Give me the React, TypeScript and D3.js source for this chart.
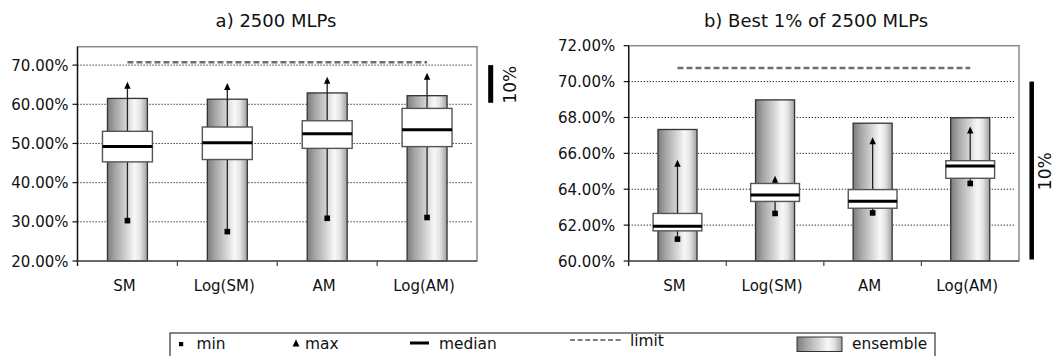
import * as d3 from "d3";
import React, { useEffect, useRef } from "react";

const categories = ["SM", "Log(SM)", "AM", "Log(AM)"];

// a) 2500 MLPs
const allMin = [30.3, 27.5, 30.9, 31.1];
const allMax = [64.6, 64.3, 65.9, 66.9];
const allQ1 = [45.3, 45.9, 48.75, 49.2];
const allQ3 = [53.1, 54.2, 55.8, 58.95];
const allMedian = [49.2, 50.2, 52.5, 53.5];
const allEnsemble = [61.5, 61.3, 62.9, 62.2];
const allTicks = [20, 30, 40, 50, 60, 70];

// b) Best 1% of 2500 MLPs
const bestMin = [61.22, 62.65, 62.68, 64.32];
const bestMax = [65.39, 64.5, 66.65, 67.24];
const bestQ1 = [61.68, 63.32, 62.94, 64.61];
const bestQ3 = [62.65, 64.32, 63.98, 65.59];
const bestMedian = [61.94, 63.68, 63.33, 65.29];
const bestEnsemble = [67.33, 68.98, 67.68, 67.98];
const bestTicks = [60, 62, 64, 66, 68, 70, 72];

const limit = 70.76;

const FONT = "'DejaVu Sans', Verdana, sans-serif";

interface PanelSpec {
  title: string;
  titleX: number;
  left: number;
  right: number;
  top: number;
  bottom: number;
  domain: [number, number];
  ticks: number[];
  labelGap: number;
  min: number[];
  max: number[];
  q1: number[];
  q3: number[];
  median: number[];
  ensemble: number[];
  scaleBarX: number;
  scaleBarW: number;
  scaleTextX: number;
}

const panels: PanelSpec[] = [
  {
    title: "a) 2500 MLPs",
    titleX: 276,
    left: 77.5,
    right: 477,
    top: 46.7,
    bottom: 261,
    domain: [20, 74.7],
    ticks: allTicks,
    labelGap: 9,
    min: allMin,
    max: allMax,
    q1: allQ1,
    q3: allQ3,
    median: allMedian,
    ensemble: allEnsemble,
    scaleBarX: 490.7,
    scaleBarW: 5,
    scaleTextX: 516,
  },
  {
    title: "b) Best 1% of 2500 MLPs",
    titleX: 816,
    left: 628.7,
    right: 1019,
    top: 45.7,
    bottom: 261,
    domain: [60, 72],
    ticks: bestTicks,
    labelGap: 13.5,
    min: bestMin,
    max: bestMax,
    q1: bestQ1,
    q3: bestQ3,
    median: bestMedian,
    ensemble: bestEnsemble,
    scaleBarX: 1031.7,
    scaleBarW: 4.5,
    scaleTextX: 1051,
  },
];

function addGradient(defs: d3.Selection<SVGDefsElement, unknown, null, undefined>, id: string) {
  const g = defs
    .append("linearGradient")
    .attr("id", id)
    .attr("x1", "0%")
    .attr("y1", "0%")
    .attr("x2", "100%")
    .attr("y2", "0%");
  const stops: [string, string][] = [
    ["0%", "#7c7c7c"],
    ["20%", "#a6a6a6"],
    ["50%", "#d8d8d8"],
    ["68%", "#f8f8f8"],
    ["82%", "#e4e4e4"],
    ["100%", "#a0a0a0"],
  ];
  stops.forEach(([o, c]) => g.append("stop").attr("offset", o).attr("stop-color", c));
}

const App: React.FC = () => {
  const svgRef = useRef<SVGSVGElement | null>(null);

  useEffect(() => {
    const svg = d3.select(svgRef.current).html("");
    const defs = svg.append("defs");
    addGradient(defs, "cyl");

    panels.forEach((p) => {
      const x = d3
        .scaleBand<string>()
        .domain(categories)
        .range([p.left, p.right]);
      const y = d3.scaleLinear().domain(p.domain).range([p.bottom, p.top]);
      const bw = x.bandwidth();
      const cx = (i: number) => (x(categories[i]) as number) + bw / 2;

      const g = svg.append("g");

      // title
      g.append("text")
        .attr("x", p.titleX)
        .attr("y", 26.5)
        .attr("text-anchor", "middle")
        .style("font-family", FONT)
        .style("font-size", "18px")
        .attr("fill", "#111")
        .text(p.title);

      // frame top/right
      g.append("rect")
        .attr("x", p.left)
        .attr("y", p.top)
        .attr("width", p.right - p.left)
        .attr("height", p.bottom - p.top)
        .attr("fill", "none")
        .attr("stroke", "#888")
        .attr("stroke-width", 1.5);

      // gridlines
      g.selectAll(".grid")
        .data(p.ticks.filter((t) => t > p.domain[0] && y(t) > p.top + 1))
        .join("line")
        .attr("x1", p.left)
        .attr("x2", p.right - 5)
        .attr("y1", (d) => y(d))
        .attr("y2", (d) => y(d))
        .attr("stroke", "#111")
        .attr("stroke-width", 1)
        .attr("stroke-dasharray", "1.2,1.8");

      // limit
      g.append("line")
        .attr("x1", cx(0))
        .attr("x2", cx(3))
        .attr("y1", y(limit))
        .attr("y2", y(limit))
        .attr("stroke", "#6e6e6e")
        .attr("stroke-width", 2.5)
        .attr("stroke-dasharray", "6,3");

      categories.forEach((c, i) => {
        const xc = cx(i);
        const barW = bw * 0.4;
        const boxW = bw * 0.5;

        // ensemble bar
        g.append("rect")
          .attr("x", xc - barW / 2)
          .attr("y", y(p.ensemble[i]))
          .attr("width", barW)
          .attr("height", p.bottom - y(p.ensemble[i]))
          .attr("fill", "url(#cyl)")
          .attr("stroke", "#333")
          .attr("stroke-width", 1.3);

        // whisker
        g.append("line")
          .attr("x1", xc)
          .attr("x2", xc)
          .attr("y1", y(p.min[i]))
          .attr("y2", y(p.max[i]) - 2)
          .attr("stroke", "#222")
          .attr("stroke-width", 1.3);

        // box
        g.append("rect")
          .attr("x", xc - boxW / 2)
          .attr("y", y(p.q3[i]))
          .attr("width", boxW)
          .attr("height", y(p.q1[i]) - y(p.q3[i]))
          .attr("fill", "#fff")
          .attr("stroke", "#555")
          .attr("stroke-width", 1.4);

        // median
        g.append("line")
          .attr("x1", xc - boxW / 2)
          .attr("x2", xc + boxW / 2)
          .attr("y1", y(p.median[i]))
          .attr("y2", y(p.median[i]))
          .attr("stroke", "#000")
          .attr("stroke-width", 3);

        // min
        g.append("rect")
          .attr("x", xc - 2.8)
          .attr("y", y(p.min[i]) - 2.8)
          .attr("width", 5.6)
          .attr("height", 5.6)
          .attr("fill", "#000");

        // max
        const ym = y(p.max[i]);
        g.append("path")
          .attr("d", `M${xc},${ym - 4.5}L${xc + 3.2},${ym + 2.5}L${xc - 3.2},${ym + 2.5}Z`)
          .attr("fill", "#000");

        // x label
        g.append("text")
          .attr("x", xc - 3)
          .attr("y", 291)
          .attr("text-anchor", "middle")
          .style("font-family", FONT)
          .style("font-size", "15px")
          .attr("fill", "#111")
          .text(c);
      });

      // left axis
      g.append("line")
        .attr("x1", p.left)
        .attr("x2", p.left)
        .attr("y1", p.top)
        .attr("y2", p.bottom + 5)
        .attr("stroke", "#111")
        .attr("stroke-width", 1.3);
      g.selectAll(".ytick")
        .data(p.ticks)
        .join("line")
        .attr("x1", p.left - 5)
        .attr("x2", p.left)
        .attr("y1", (d) => y(d))
        .attr("y2", (d) => y(d))
        .attr("stroke", "#111")
        .attr("stroke-width", 1.2);
      g.selectAll(".ylab")
        .data(p.ticks)
        .join("text")
        .attr("x", p.left - p.labelGap)
        .attr("y", (d) => y(d) + 5.5)
        .attr("text-anchor", "end")
        .style("font-family", FONT)
        .style("font-size", "15px")
        .attr("fill", "#111")
        .text((d) => d3.format(".2f")(d) + "%");

      // bottom axis
      g.append("line")
        .attr("x1", p.left)
        .attr("x2", p.right)
        .attr("y1", p.bottom)
        .attr("y2", p.bottom)
        .attr("stroke", "#555")
        .attr("stroke-width", 1.5);
      g.selectAll(".xtick")
        .data(categories.slice(1))
        .join("line")
        .attr("x1", (d) => x(d) as number)
        .attr("x2", (d) => x(d) as number)
        .attr("y1", p.bottom)
        .attr("y2", p.bottom + 5)
        .attr("stroke", "#444")
        .attr("stroke-width", 1.2);

      // 10% scale bar
      g.append("rect")
        .attr("x", p.scaleBarX - p.scaleBarW / 2)
        .attr("y", y(70))
        .attr("width", p.scaleBarW)
        .attr("height", y(60) - y(70) - 1.5)
        .attr("fill", "#000");
      g.append("text")
        .attr("transform", `translate(${p.scaleTextX},${(y(60) + y(70)) / 2}) rotate(-90)`)
        .attr("text-anchor", "middle")
        .style("font-family", FONT)
        .style("font-size", "17px")
        .attr("fill", "#111")
        .text("10%");
    });

    // legend
    const lg = svg.append("g");
    lg.append("rect")
      .attr("x", 170)
      .attr("y", 333)
      .attr("width", 765)
      .attr("height", 60)
      .attr("fill", "#fff")
      .attr("stroke", "#444")
      .attr("stroke-width", 1.3);

    const legendText = (tx: number, label: string, ty = 348.5) =>
      lg
        .append("text")
        .attr("x", tx)
        .attr("y", ty)
        .style("font-family", FONT)
        .style("font-size", "15.4px")
        .attr("fill", "#111")
        .text(label);

    lg.append("rect").attr("x", 179).attr("y", 342).attr("width", 4.2).attr("height", 4.2).attr("fill", "#000");
    legendText(196.5, "min");

    lg.append("path").attr("d", "M296,339.5L299.5,346.5L292.5,346.5Z").attr("fill", "#000");
    legendText(305, "max");

    lg.append("line")
      .attr("x1", 410)
      .attr("x2", 429)
      .attr("y1", 343)
      .attr("y2", 343)
      .attr("stroke", "#000")
      .attr("stroke-width", 3);
    legendText(439, "median");

    lg.append("line")
      .attr("x1", 570)
      .attr("x2", 623)
      .attr("y1", 340)
      .attr("y2", 340)
      .attr("stroke", "#555")
      .attr("stroke-width", 1.5)
      .attr("stroke-dasharray", "5,2.6");
    legendText(630, "limit", 346);

    lg.append("rect")
      .attr("x", 797)
      .attr("y", 337)
      .attr("width", 45)
      .attr("height", 14.5)
      .attr("fill", "url(#cyl)")
      .attr("stroke", "#333")
      .attr("stroke-width", 1);
    legendText(852, "ensemble");
  }, []);

  return (
    <svg
      ref={svgRef}
      width={1061}
      height={356}
      style={{ position: "absolute", left: 0, top: 0, background: "#fff" }}
    ></svg>
  );
};

export default App;
